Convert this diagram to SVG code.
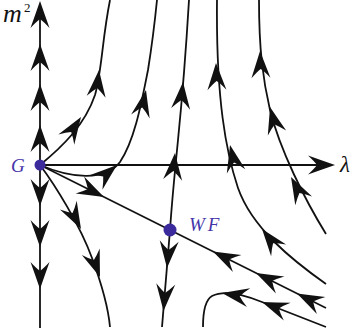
<svg xmlns="http://www.w3.org/2000/svg" width="356" height="336" viewBox="0 0 356 336">
<style>
.ln{fill:none;stroke:#111;stroke-width:1.8}
.ar{fill:#111}
.dot{fill:#3a2a9c}
.lb{font-family:"Liberation Serif",serif;font-style:italic;fill:#111}
.pl{font-family:"Liberation Serif",serif;font-style:italic;fill:#4535aa}
</style>
<defs>
<path id="a" d="M0,0 Q-13,-4.5 -27,-9.5 Q-21,-4 -18,0 Q-21,4 -27,9.5 Q-13,4.5 0,0 Z"/>
</defs>
<rect width="356" height="336" fill="#fff"/>
<g id="connectors">
<path class="ln" d="M40,328 L40,6"/>
<path class="ln" d="M40,165 L330,165"/>
<path class="ln" d="M40,165 L326,308"/>
<path class="ln" d="M170,230 C172,200 175,170 178,140 C182,100 186,50 189,0"/>
<path class="ln" d="M170,230 L162,327"/>
<path class="ln" d="M40,165 C62,147 85,125 95,95 C102,70 102,40 110,0"/>
<path class="ln" d="M40,165 C70,178 105,182 120,162 C135,140 142,100 148,70 C152,45 155,20 157,0"/>
<path class="ln" d="M40,165 C55,185 80,225 92,258 C102,285 108,305 110,327"/>
<path class="ln" d="M326,234 C305,200 280,150 270,110 C263,80 259,50 259,0"/>
<path class="ln" d="M326,284 C292,260 252,228 238,188 C226,152 216,100 217,0"/>
<path class="ln" d="M326,327 L262,302 C240,293 222,291 212,296 C205,300 203,312 203,327"/>
<g class="ar">
<use href="#a" transform="translate(40,1) rotate(-90)"/>
<use href="#a" transform="translate(335,165)"/>
<use href="#a" transform="translate(40,44) rotate(-90)"/>
<use href="#a" transform="translate(40,84) rotate(-90)"/>
<use href="#a" transform="translate(40,125) rotate(-90)"/>
<use href="#a" transform="translate(40,206) rotate(90)"/>
<use href="#a" transform="translate(40,247) rotate(90)"/>
<use href="#a" transform="translate(40,289) rotate(90)"/>
<use href="#a" transform="translate(104,197) rotate(26.57)"/>
<use href="#a" transform="translate(213,251.5) rotate(206.57)"/>
<use href="#a" transform="translate(256,273) rotate(206.57)"/>
<use href="#a" transform="translate(297,293.5) rotate(206.57)"/>
<use href="#a" transform="translate(167,268) rotate(94.7)"/>
<use href="#a" transform="translate(163.5,311) rotate(94.7)"/>
<use href="#a" transform="translate(175,153) rotate(-85)"/>
<use href="#a" transform="translate(183,82) rotate(-85)"/>
<use href="#a" transform="translate(81,117) rotate(-57)"/>
<use href="#a" transform="translate(99,70) rotate(-84)"/>
<use href="#a" transform="translate(117,165) rotate(-40)"/>
<use href="#a" transform="translate(146,90) rotate(-78)"/>
<use href="#a" transform="translate(81,229) rotate(62)"/>
<use href="#a" transform="translate(100,277) rotate(70)"/>
<use href="#a" transform="translate(291,177) rotate(-118)"/>
<use href="#a" transform="translate(270,107) rotate(-105)"/>
<use href="#a" transform="translate(260,51) rotate(-92)"/>
<use href="#a" transform="translate(262,229) rotate(-128)"/>
<use href="#a" transform="translate(230,145) rotate(-103)"/>
<use href="#a" transform="translate(216,63) rotate(-92)"/>
<use href="#a" transform="translate(262,302) rotate(201)"/>
<use href="#a" transform="translate(222,293) rotate(190)"/>
</g>
</g>
<g id="G">
<circle class="dot" cx="40" cy="165" r="5.5"/>
<text class="pl" x="11" y="172" font-size="19">G</text>
</g>
<g id="WF">
<circle class="dot" cx="170" cy="230" r="6.5"/>
<text class="pl" x="189" y="231" font-size="19" letter-spacing="3">WF</text>
</g>
<g id="axis-labels">
<text class="lb" x="3" y="22" font-size="26">m</text>
<text x="24" y="12" font-size="13" font-family="Liberation Serif,serif" fill="#111">2</text>
<text class="lb" x="340" y="172" font-size="23">λ</text>
</g>
</svg>
